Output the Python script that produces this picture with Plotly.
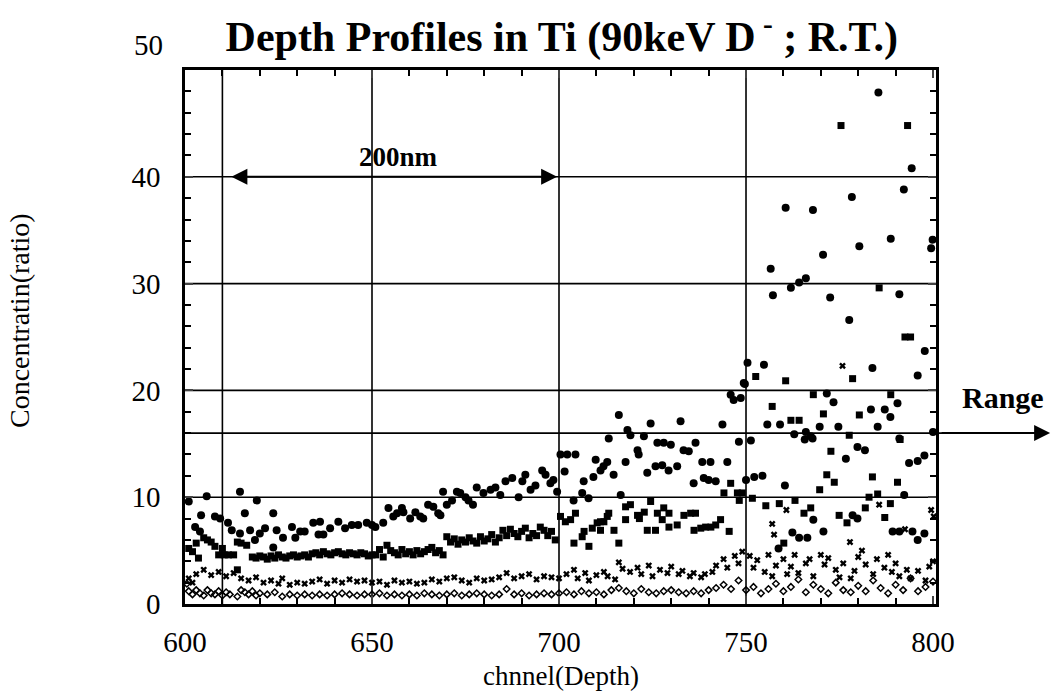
import plotly.graph_objects as go

# ---------------- data ----------------
circle_ch = [601, 602.7, 604, 604.3, 605.8, 608, 609.4, 611.5, 612.5, 614.7, 614.7, 616, 617.4, 618.7, 619.2, 620,
             621.4, 623.6, 623.6, 624.5, 626.2, 628.6, 629.5, 630.8, 632, 634.3, 635.7, 636.1, 637, 638.8, 641,
             642.8, 644.6, 646.3, 648.6, 650,
             650.9, 653, 654.4, 655.7, 656.7, 658, 658.4, 660.2, 661.6, 662.9, 663.7, 665, 666.4, 667.7, 668.3,
             669, 670, 671.4, 672.7, 673.6, 675, 675.8, 677, 678, 679.8, 681.7, 683, 684.3, 685.7, 687.5, 689.2,
             690.2, 691, 692.4, 693.7, 695.5, 696.4, 697.7, 698.5, 699.5,
             700.4, 701.5, 702.2, 703.9, 704.4, 706.2, 706.6, 707.9, 709.2, 709.8, 711.1, 711.9, 712.9, 713.3,
             714.6, 716, 716.5, 717.8, 718.3, 719.1, 721, 721.3, 722.7, 723.6, 724.5, 725.8, 726.3, 727.6, 728,
             729.3, 729.9, 731.6, 732.5, 733.3, 734.7, 736, 736.5, 738.3, 738.7, 740, 740.5, 741.9, 743.7, 745,
             745.9, 746.7, 748.1, 748.6, 749.4,
             785.4, 794.3, 792.2, 778.3, 760.6, 767.9, 788.7, 780.3, 799.9, 799.5, 770.6, 756.6, 766, 764.2, 762,
             757.2, 791, 772.5, 777.6, 797.8, 750.4, 754.8, 783.8, 795.9, 749.7, 771.6, 773.4, 790.5, 783.4,
             787.1, 788.6, 755.7, 759.1, 769.7, 774.7, 785.2, 800, 766, 767.3, 762.9, 791, 751.3, 765.7, 767.8,
             779.8, 781.8, 776.7, 793.6, 795.9, 797.7, 750, 752.2, 754.4, 760.4, 792.3, 762.4, 764.2, 766.4, 768,
             770.7, 789.2, 791, 794.5, 797.7, 795.9, 779.8, 778.5, 758.7]
circle_val = [9.6, 7.2, 6.8, 8.3, 10.1, 8.2, 8.0, 7.6, 6.9, 10.5, 6.6, 8.5, 6.9, 6.0, 9.7, 6.6,
              7.1, 8.5, 5.3, 6.9, 6.2, 7.2, 6.2, 6.8, 6.8, 7.6, 6.5, 7.7, 6.5, 7.1, 7.7,
              7.1, 7.4, 7.4, 7.6, 7.4,
              7.2, 7.6, 9.0, 8.2, 8.5, 9.0, 8.6, 8.0, 8.6, 8.2, 8.0, 9.3, 9.1, 8.5, 8.3,
              10.5, 9.3, 9.7, 10.5, 10.4, 10.0, 9.7, 9.3, 10.9, 10.4, 10.7, 10.9, 10.2, 11.5, 11.8, 10.0,
              11.5, 12.1, 10.7, 11.1, 12.5, 12.1, 11.3, 11.6, 10.5,
              14.0, 12.4, 14.0, 9.7, 14.0, 10.4, 11.5, 9.9, 11.9, 13.5, 12.5, 12.9, 13.3, 15.5,
              12.1, 17.7, 10.2, 13.3, 16.3, 15.8, 14.4, 14.0, 15.7, 12.3, 16.9, 12.9, 15.1, 13.0, 15.1,
              12.5, 14.9, 12.9, 17.1, 14.4, 14.3, 11.3, 15.1, 13.3, 11.8, 11.6, 13.3, 11.5, 16.8, 13.3,
              19.6, 19.1, 15.2, 19.3, 20.7,
              47.9, 40.8, 38.8, 38.1, 37.1, 36.9, 34.2, 33.5, 34.1, 33.3, 32.7, 31.4, 30.5, 30.1, 29.6,
              28.9, 29.0, 28.7, 26.6, 23.7, 22.6, 22.4, 22.1, 21.4, 20.6, 19.7, 18.9, 18.8, 18.2,
              18.2, 17.5, 16.8, 16.8, 16.6, 16.6, 16.6, 16.1, 16.1, 15.7, 15.9, 15.5, 15.3, 15.4, 15.5,
              14.7, 14.4, 13.6, 13.2, 13.4, 13.9, 11.6, 11.9, 12.0, 11.1, 10.2, 6.7, 6.2, 6.2, 7.9,
              6.8, 6.8, 6.8, 6.8, 6.6, 6.0, 8.0, 8.3, 5.2]

square_ch = [601, 602, 603, 603.6, 605, 606, 607, 608, 609, 610, 610.5, 611.6, 613, 614, 615, 616.5, 614,
             618, 619, 620, 621, 622, 623, 624, 625, 626, 627, 628, 629, 630, 631, 632, 633, 634, 635, 636,
             637, 638, 639, 640, 641, 642, 643, 644, 645, 646, 647, 648, 649, 650,
             651, 652, 653, 654, 655, 656, 657, 658, 659, 660, 661, 662, 663, 664, 665, 666, 667, 668, 669,
             670, 671, 672, 673, 674, 675, 676, 677, 678, 679, 680, 681, 682, 683, 684, 685, 686, 687, 688,
             689, 690, 691, 692, 693, 694, 695, 696, 697, 698, 699,
             700.4, 701.7, 703.1, 704.4, 704, 706.2, 706.7, 708, 708.9, 710.2, 711.1, 712, 712.9, 713.3, 711.1,
             714.7, 716, 717.8, 719.1, 717.8, 721, 721.5, 722.8, 723.6, 725.8, 724.5, 726.3, 728, 729.4, 727.6,
             729.4, 731.6, 733.4, 735.2, 736.5, 736.1, 737.9, 739.2, 740.6, 741.9, 743.2, 745.5, 744.1, 745.9,
             747.7, 748.2, 749,
             775.4, 793.2, 785.6, 792.5, 794, 752.6, 760.6, 778.5, 768, 788.7, 757, 770.7, 780.3, 762, 764.2,
             777.6, 791.2, 772.7, 771.6, 773.6, 783.8, 790.5, 769.7, 782.9, 785.2, 751.7, 755.3, 758.9, 763.1,
             767.3, 765.5, 774.9, 777, 781.9, 788.6, 787.1, 760.1]
square_val = [5.2, 4.9, 5.7, 4.3, 6.2, 6.0, 5.8, 5.4, 4.6, 5.2, 4.6, 4.6, 4.6, 5.8, 5.7, 5.5, 3.2,
              4.4, 4.3, 4.5, 4.4, 4.2, 4.5, 4.3, 4.6, 4.4, 4.3, 4.5, 4.6, 4.4, 4.5, 4.6, 4.4, 4.7, 4.8, 4.6,
              4.9, 4.7, 4.6, 4.8, 4.9, 4.7, 4.6, 4.8, 4.7, 4.6, 4.8, 4.7, 4.5, 4.6,
              4.6, 5.1, 4.4, 5.5, 5.0, 4.8, 4.6, 5.1, 4.7, 4.9, 4.6, 5.0, 4.7, 4.9, 5.1, 5.3, 4.8, 5.0, 4.6,
              6.3, 5.8, 6.1, 5.6, 6.0, 5.8, 6.2, 5.9, 5.7, 6.3, 5.9, 6.1, 6.5, 5.8, 6.2, 6.9, 6.4, 7.0, 6.6,
              6.3, 6.8, 7.1, 6.2, 6.6, 6.4, 7.2, 6.9, 6.4, 6.8, 6.0,
              8.2, 7.7, 7.9, 8.5, 5.7, 6.3, 6.8, 5.4, 7.1, 7.6, 7.7, 7.7, 8.2, 8.5, 6.9,
              6.9, 5.7, 9.1, 9.3, 7.9, 8.3, 8.0, 8.6, 6.9, 6.9, 9.6, 8.5, 9.0, 8.5, 7.9,
              7.2, 7.4, 8.3, 8.5, 8.5, 6.9, 7.1, 7.2, 7.2, 7.4, 7.9, 6.8, 10.4, 11.3,
              10.4, 9.7, 10.4,
              44.8, 44.8, 29.6, 25.0, 25.0, 21.3, 20.9, 21.1, 19.6, 19.6, 18.5, 17.8, 17.7, 17.2, 17.2,
              15.8, 15.4, 14.3, 12.1, 11.4, 11.9, 11.4, 10.7, 10.0, 10.3, 9.9, 9.2, 9.4, 9.7,
              9.0, 8.5, 8.3, 7.6, 9.0, 9.4, 8.1, 5.7]

cross_ch = [601, 602, 603, 605, 607, 609, 611, 613, 615, 617, 619, 621, 623, 625, 626, 628, 630, 632, 634, 636,
            638, 640, 642, 644, 646, 648, 650,
            652, 654, 656, 658, 660, 662, 664, 666, 668, 670, 672, 674, 676, 678, 680, 682, 684, 686, 688, 690,
            692, 694, 696, 698, 700,
            702, 704, 705, 707, 708, 710, 712, 713, 715, 716, 717, 719, 721, 722, 724, 725, 727, 729, 730, 732,
            733, 735, 736, 738, 739, 741, 742, 744, 745, 747, 748, 749,
            751, 752, 753, 755, 756, 757, 758, 760, 761, 762, 763, 764, 766, 767, 768, 770, 771, 772, 774, 775,
            776, 778, 779, 780, 781, 782, 784, 785, 787, 788, 789, 790, 791, 793, 794, 796, 798, 799, 800,
            757, 757.5, 760.8, 775.8, 777.8, 785.6, 799.5, 800.2, 792.5]
cross_val = [2.4, 2.0, 2.8, 3.2, 2.7, 3.0, 2.6, 2.9, 2.4, 2.2, 2.5, 2.0, 2.2, 1.9, 2.4, 1.8, 2.0, 1.9, 2.1, 2.3,
             1.9, 2.2, 2.0, 2.3, 2.1, 2.2, 2.0,
             2.1, 1.8, 2.2, 2.0, 2.1, 1.9, 2.0, 2.3, 2.1, 2.4, 2.5, 2.2, 2.0, 2.4, 2.2, 2.3, 2.5, 2.9, 2.4, 2.6,
             2.8, 2.3, 2.6, 2.5, 2.4,
             2.8, 3.2, 2.4, 2.9, 2.2, 2.7, 3.0, 2.6, 2.3, 3.9, 3.3, 3.0, 3.4, 2.8, 3.6, 2.6, 3.2, 2.9, 3.5, 2.8,
             3.1, 2.6, 2.9, 2.5, 2.8, 3.0, 3.6, 4.2, 3.4, 4.5, 3.8, 4.9,
             4.5, 3.4, 4.1, 3.0, 4.6, 2.6, 3.6, 4.2, 2.8, 3.5, 4.6, 2.9, 3.8, 4.2, 2.6, 4.6, 3.7, 4.3, 3.2, 2.5,
             3.8, 2.4, 3.1, 4.4, 5.0, 3.7, 2.8, 4.2, 3.4, 4.6, 3.0, 3.8, 2.6, 3.2, 2.4, 3.1, 2.2, 3.5, 4.0,
             7.5, 6.5, 8.8, 22.3, 5.8, 9.3, 8.8, 8.2, 7.0]

base_ch = [600.5, 601, 602, 603, 604, 605, 606, 607, 608, 609, 610, 611, 612, 614, 615, 616, 617, 618, 619, 620,
           622, 624, 626, 628, 630, 632, 634, 636, 638, 640, 642, 644, 646, 648, 650, 652, 654, 656, 658, 660,
           662, 664, 666, 668, 670, 672, 674, 676, 678, 680, 682, 684, 686, 688, 690, 692, 694, 696, 698, 700,
           702, 704, 706, 708, 710, 712, 714, 716, 718, 720, 722, 724, 726, 728, 730, 732, 734, 736, 738, 740,
           742, 744, 746, 748, 750, 752, 754, 756, 758, 760, 762, 764, 766, 768, 770, 772, 774, 776, 778, 780,
           782, 784, 786, 788, 790, 792, 794, 796, 798, 800]
base_val = [1.9, 1.2, 0.9, 1.3, 1.0, 0.8, 1.3, 1.0, 0.9, 1.2, 0.8, 1.1, 0.9, 0.7, 1.3, 1.1, 0.9, 1.2, 0.8, 1.0,
            0.9, 1.1, 0.7, 0.9, 0.8, 0.9, 0.8, 0.9, 0.8, 0.9, 1.0, 0.9, 0.8, 0.9, 0.9, 1.0, 0.8, 0.9, 0.8, 0.9,
            0.8, 1.0, 0.9, 0.8, 0.9, 1.0, 0.8, 0.9, 1.0, 0.9, 0.8, 0.9, 1.4, 0.9, 1.0, 0.8, 0.9, 1.0, 0.9, 1.0,
            1.1, 0.9, 1.2, 1.0, 1.1, 0.9, 1.3, 1.5, 1.2, 1.0, 1.4, 1.1, 1.0, 1.2, 1.3, 1.1, 1.0, 1.2, 1.0, 1.3,
            1.5, 1.8, 1.4, 2.2, 1.3, 1.6, 1.0, 1.4, 1.9, 1.2, 1.6, 2.3, 1.1, 1.8, 1.4, 1.0, 2.0, 1.3, 1.1, 1.7,
            1.2, 2.2, 1.5, 1.0, 1.8, 1.3, 2.4, 1.2, 1.6, 2.1]

x_ticks = [600, 650, 700, 750, 800]
y_ticks = [0, 10, 20, 30, 40, 50]
y_ticktext = ["0", "10", "20", "30", "40", ""]
x_grid = [610, 650, 700, 750]
y_grid = [10, 16, 20, 30, 40]

FONT = "Liberation Serif"

fig = go.Figure()
fig.add_trace(go.Scatter(x=base_ch, y=base_val, mode="markers",
                         marker=dict(symbol="diamond-open", size=5, color="black", line=dict(width=1.5))))
fig.add_trace(go.Scatter(x=cross_ch, y=cross_val, mode="markers",
                         marker=dict(symbol="x", size=6, color="black", line=dict(width=0))))
fig.add_trace(go.Scatter(x=square_ch, y=square_val, mode="markers",
                         marker=dict(symbol="square", size=7, color="black")))
fig.add_trace(go.Scatter(x=circle_ch, y=circle_val, mode="markers",
                         marker=dict(symbol="circle", size=8, color="black")))

shapes = []
for gx in x_grid:
    shapes.append(dict(type="line", xref="x", yref="paper", x0=gx, x1=gx, y0=0, y1=1,
                       line=dict(color="black", width=1.6), layer="below"))
for gy in y_grid:
    x_end = 1.14 if gy == 16 else 1
    shapes.append(dict(type="line", xref="paper", yref="y", x0=0, x1=x_end, y0=gy, y1=gy,
                       line=dict(color="black", width=1.6), layer="below"))

annotations = [
    dict(x=699.5, y=40, xref="x", yref="y", ax=612, ay=40, axref="x", ayref="y",
         showarrow=True, arrowhead=2, arrowside="end+start", arrowsize=1.6, arrowwidth=2,
         arrowcolor="black", text=""),
    dict(x=657, y=40.3, xref="x", yref="y", text="<b>200nm</b>", showarrow=False,
         yanchor="bottom", font=dict(family=FONT, size=27, color="black")),
    dict(x=1.152, y=16, xref="paper", yref="y", ax=-110, ay=0, showarrow=True,
         arrowhead=2, arrowsize=1.6, arrowwidth=2, arrowcolor="black", text=""),
    dict(x=1.089, y=19.3, xref="paper", yref="y", text="<b>Range</b>", showarrow=False,
         xanchor="center", yanchor="middle", font=dict(family=FONT, size=30, color="black")),
    dict(x=-0.027, y=1.047, xref="paper", yref="paper", text="50", showarrow=False,
         xanchor="right", yanchor="middle", font=dict(family=FONT, size=29, color="black")),
    dict(x=-0.2197, y=0.53, xref="paper", yref="paper", text="Concentratin(ratio)", showarrow=False,
         textangle=-90, xanchor="center", yanchor="middle", font=dict(family=FONT, size=28, color="black")),
    dict(x=0.5, y=-0.135, xref="paper", yref="paper", text="chnnel(Depth)", showarrow=False,
         xanchor="center", yanchor="middle", font=dict(family=FONT, size=27, color="black")),
]

fig.update_layout(
    width=1054, height=692,
    margin=dict(l=185, r=118, t=70, b=88),
    paper_bgcolor="white", plot_bgcolor="white",
    showlegend=False,
    title=dict(text="<b>Depth Profiles in Ti (90keV D<sup> -</sup> ; R.T.)</b>",
               x=0.533, xanchor="center", y=0.947, yanchor="middle",
               font=dict(family=FONT, size=42, color="black")),
    font=dict(family=FONT, color="black"),
    shapes=shapes,
    annotations=annotations,
)
fig.update_xaxes(range=[600, 800.8], tickvals=x_ticks, ticks="inside", ticklen=8, tickwidth=2,
                 showgrid=False, zeroline=False, showline=True, linewidth=2.5, linecolor="black",
                 mirror="allticks", tickfont=dict(family=FONT, size=29, color="black"),
                 ticklabelstandoff=10,
                 minor=dict(dtick=10, ticks="inside", ticklen=6, tickwidth=1.5, tickcolor="black"))
fig.update_yaxes(range=[0, 50], tickvals=y_ticks, ticktext=y_ticktext, ticks="inside", ticklen=8, tickwidth=2,
                 showgrid=False, zeroline=False, showline=True, linewidth=2.5, linecolor="black",
                 mirror="allticks", tickfont=dict(family=FONT, size=29, color="black"),
                 ticklabelstandoff=16,
                 minor=dict(dtick=2, ticks="inside", ticklen=6, tickwidth=1.5, tickcolor="black"))

fig.write_html("out.html")
